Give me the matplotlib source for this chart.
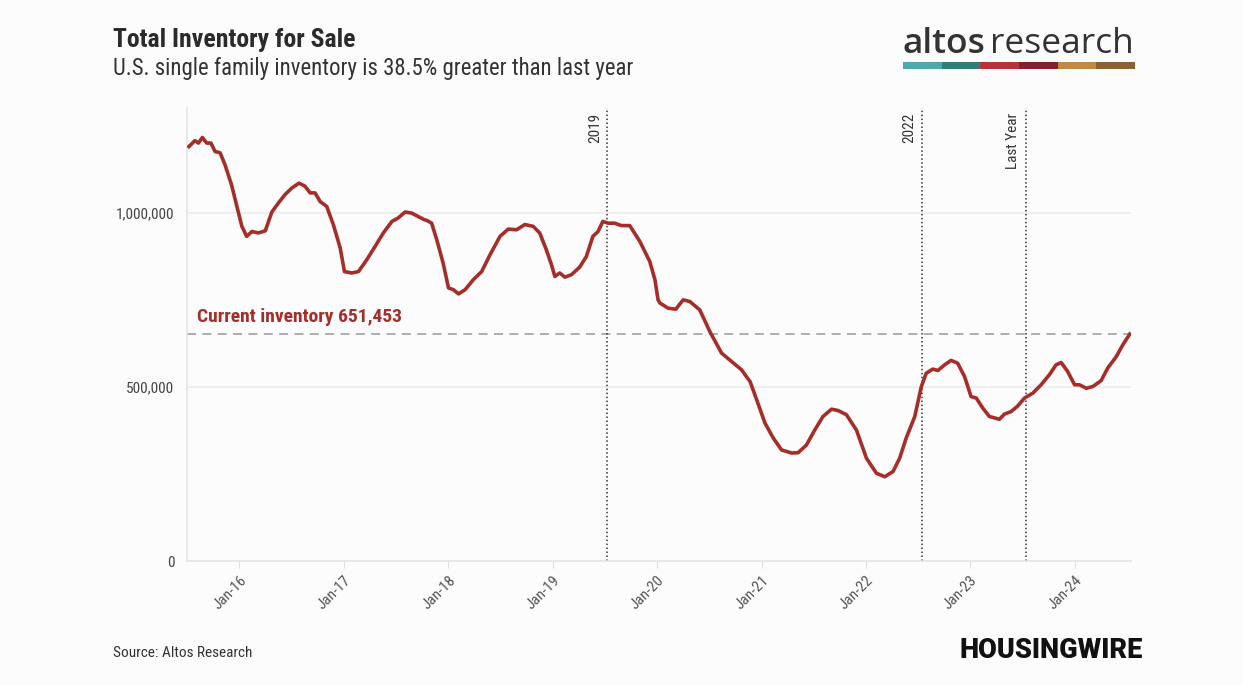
import pandas as pd
import numpy as np
import matplotlib.pyplot as plt
import matplotlib.dates as mdates
from matplotlib import font_manager
from matplotlib.patches import Rectangle

# pick a condensed face if one is installed
names = {f.name for f in font_manager.fontManager.ttflist}
cond = next((n for n in ['Roboto Condensed', 'Liberation Sans Narrow', 'Roboto'] if n in names), 'DejaVu Sans')
plt.rcParams['font.family'] = [cond, 'DejaVu Sans']

# Weekly inventory (thousands of homes)
dates = [
    '2015-07-09', '2015-07-30', '2015-08-11', '2015-08-25', '2015-09-09', '2015-09-24', '2015-10-08',
    '2015-10-26', '2015-11-12', '2015-12-05', '2015-12-28',
    '2016-01-10', '2016-01-27', '2016-02-14', '2016-03-08', '2016-04-01', '2016-04-24', '2016-05-17',
    '2016-06-09', '2016-07-03', '2016-07-28', '2016-08-18', '2016-09-05', '2016-09-22', '2016-10-10',
    '2016-11-02', '2016-11-25', '2016-12-19',
    '2017-01-03', '2017-01-29', '2017-02-21', '2017-03-22', '2017-04-20', '2017-05-19', '2017-06-18',
    '2017-07-10', '2017-08-03', '2017-08-26', '2017-09-18', '2017-10-09', '2017-10-18', '2017-11-04',
    '2017-11-22', '2017-12-14',
    '2018-01-02', '2018-01-19', '2018-02-06', '2018-03-01', '2018-03-30', '2018-04-28', '2018-05-27',
    '2018-07-01', '2018-07-30', '2018-08-28', '2018-09-26', '2018-10-25', '2018-11-17', '2018-12-10',
    '2018-12-28',
    '2019-01-09', '2019-01-26', '2019-02-13', '2019-03-08', '2019-04-06', '2019-04-29', '2019-05-22',
    '2019-06-09', '2019-06-26', '2019-07-14', '2019-08-06', '2019-08-30', '2019-09-28', '2019-11-02',
    '2019-12-07', '2019-12-25',
    '2020-01-05', '2020-01-11', '2020-02-09', '2020-03-07', '2020-04-02', '2020-04-25', '2020-05-30',
    '2020-07-04', '2020-08-14', '2020-09-18', '2020-10-23', '2020-11-22', '2020-12-15',
    '2021-01-13', '2021-02-11', '2021-03-12', '2021-04-16', '2021-05-09', '2021-06-07', '2021-07-06',
    '2021-08-04', '2021-09-03', '2021-09-26', '2021-10-25', '2021-11-29',
    '2022-01-03', '2022-02-07', '2022-03-08', '2022-04-06', '2022-04-29', '2022-05-22', '2022-06-21',
    '2022-07-14', '2022-07-31', '2022-08-23', '2022-09-10', '2022-10-03', '2022-10-26', '2022-11-18',
    '2022-12-12',
    '2023-01-04', '2023-01-22', '2023-02-14', '2023-03-09', '2023-04-13', '2023-05-01', '2023-05-24',
    '2023-06-16', '2023-07-10', '2023-08-08', '2023-09-06', '2023-10-05', '2023-10-28', '2023-11-15',
    '2023-12-08',
    '2024-01-01', '2024-01-18', '2024-02-11', '2024-03-05', '2024-04-03', '2024-04-26', '2024-05-26',
    '2024-06-18', '2024-07-12',
]
inventory_k = [
    1190, 1207, 1200, 1216, 1200, 1200, 1176, 1172, 1138, 1080, 1004,
    961, 932, 946, 942, 948, 1002, 1028, 1052, 1071, 1085, 1076, 1057, 1057, 1032, 1018, 966, 899,
    831, 827, 831, 865, 903, 942, 975, 985, 1002, 999, 989, 980, 978, 970, 922, 856,
    784, 779, 767, 779, 808, 831, 879, 932, 953, 951, 966, 961, 942, 894, 851,
    817, 827, 815, 822, 844, 874, 932, 946, 975, 970, 970, 963, 963, 918, 860, 808,
    750, 741, 726, 723, 750, 745, 721, 659, 597, 573, 549, 515, 463,
    396, 353, 319, 310, 311, 333, 376, 415, 436, 432, 420, 376,
    295, 252, 242, 257, 295, 353, 415, 501, 539, 551, 547, 563, 576, 568, 530,
    472, 468, 439, 415, 407, 422, 429, 445, 468, 482, 506, 535, 563, 570, 544,
    506, 506, 496, 501, 518, 554, 587, 621, 651.453,
]
current = 651453
marker_dates = ['2019-07-12', '2022-07-15', '2023-07-14']
marker_labels = ['2019', '2022', 'Last Year']
yticks = [0, 500000, 1000000]
ytick_labels = ['0', '500,000', '1,000,000']
logo_colors = ['#4fa9a8', '#2f7f78', '#b3343a', '#85202e', '#c08a45', '#8b6234']

df = pd.DataFrame({'date': pd.to_datetime(dates), 'inventory': np.array(inventory_k) * 1000})

bg = '#fcfcfc'
red = '#a52e2a'
fig = plt.figure(figsize=(12.43, 6.85), dpi=100, facecolor=bg)
ax = fig.add_axes([0.1504, 0.181, 0.7594, 0.661], facecolor=bg)

ax.plot(df['date'], df['inventory'], color=red, lw=2.6, solid_joinstyle='round', zorder=3)
ax.axhline(current, color='#a8a8a8', lw=1.3, ls=(0, (5, 3.5)), zorder=2)
ax.text(pd.Timestamp('2015-08-05'), current + 22000, 'Current inventory 651,453',
        color=red, fontsize=14, fontweight='bold', va='bottom', ha='left')

ymax = 1300000
for d, lab in zip(marker_dates, marker_labels):
    ax.axvline(pd.Timestamp(d), color='#333333', lw=1.1, ls=(0, (1, 1.6)), zorder=2)
    ax.annotate(lab, (pd.Timestamp(d), ymax), xytext=(-4, -3), textcoords='offset points',
                rotation=90, ha='right', va='top', fontsize=11, color='#333333')

ax.set_ylim(0, ymax)
ax.set_xlim(pd.Timestamp('2015-07-02'), pd.Timestamp('2024-07-16'))
ax.set_yticks(yticks)
ax.set_yticklabels(ytick_labels)
ax.grid(axis='y', color='#ececec', lw=1.2)
ax.set_axisbelow(True)

ax.xaxis.set_major_locator(mdates.YearLocator())
ax.xaxis.set_major_formatter(mdates.DateFormatter('Jan-%y'))
plt.setp(ax.get_xticklabels(), rotation=45, ha='right', rotation_mode='anchor')
ax.tick_params(axis='x', length=5, color='#dddddd', labelsize=11, labelcolor='#555555', pad=4)
ax.tick_params(axis='y', length=0, labelsize=11, labelcolor='#444444', pad=9)

for s in ['top', 'right']:
    ax.spines[s].set_visible(False)
for s in ['left', 'bottom']:
    ax.spines[s].set_color('#e6e6e6')
    ax.spines[s].set_linewidth(1.2)

# headings
fig.text(113 / 1243, 1 - 40 / 685, 'Total Inventory for Sale', fontsize=18.5, fontweight='bold',
         color='#2b2b2b', va='center', ha='left')
fig.text(113 / 1243, 1 - 69 / 685, 'U.S. single family inventory is 38.5% greater than last year',
         fontsize=16.4, color='#333333', va='center', ha='left')
fig.text(113 / 1243, 1 - 653 / 685, 'Source: Altos Research', fontsize=11, color='#333333',
         va='center', ha='left')
fig.text(1143 / 1243, 1 - 651 / 685, 'HOUSINGWIRE', fontsize=19.5, fontweight='heavy', color='#111111',
         va='center', ha='right', family=['Roboto', 'DejaVu Sans'])

# altos research logo
t1 = fig.text(902 / 1243, 1 - 53 / 685, 'altos', fontsize=25.5, fontweight='semibold', color='#333333',
              va='baseline', ha='left', family=['Open Sans', 'DejaVu Sans'])
fig.canvas.draw()
bb = t1.get_window_extent()
fig.text((bb.x1 + 5) / 1243, 1 - 53 / 685, 'research', fontsize=25.5, fontweight='normal', color='#333333',
         va='baseline', ha='left', family=['Open Sans', 'DejaVu Sans'])
x0, w = 903 / 1243, (1135 - 903) / 1243 / len(logo_colors)
for i, c in enumerate(logo_colors):
    fig.patches.append(Rectangle((x0 + i * w, 1 - 69 / 685), w, 7 / 685, transform=fig.transFigure,
                                 color=c, lw=0))

fig.savefig('out.png', dpi=100, facecolor=bg)
